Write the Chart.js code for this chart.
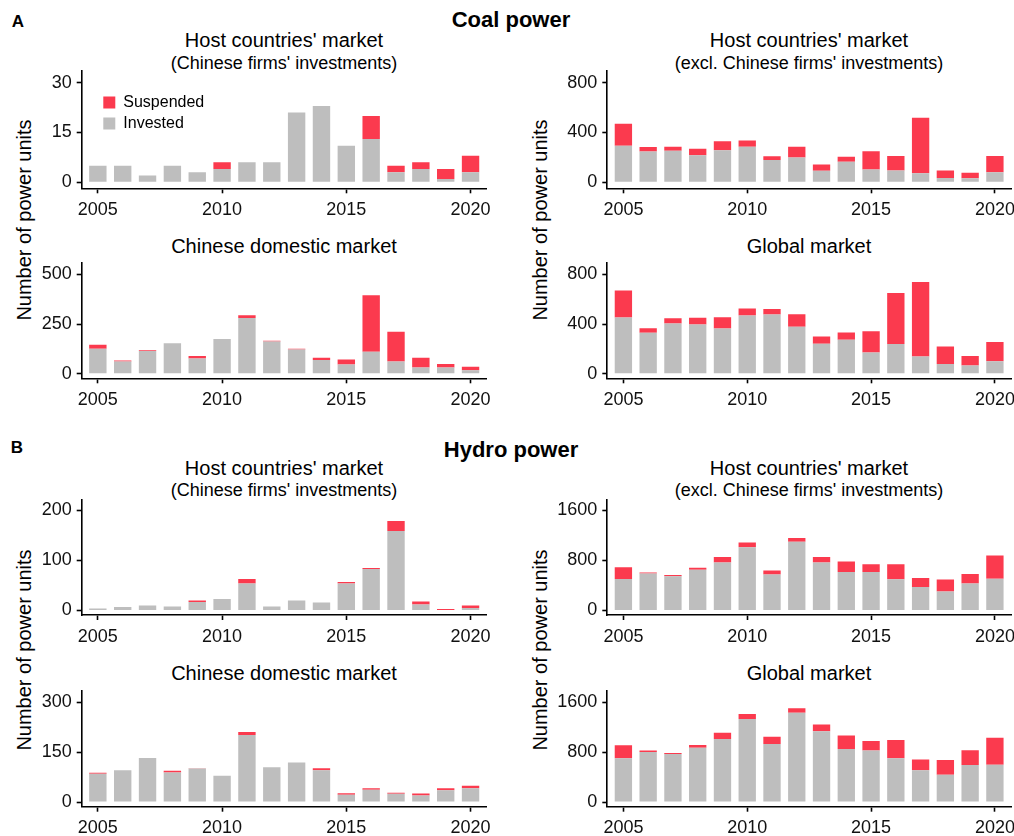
<!DOCTYPE html>
<html>
<head>
<meta charset="utf-8">
<title>Coal and hydro power units, 2005-2020</title>
<script src="https://cdn.jsdelivr.net/npm/chart.js@4.4.1/dist/chart.umd.min.js"></script>
<style>
  html, body { margin: 0; padding: 0; background: #fff; }
  #fig { position: relative; width: 1014px; height: 836px; overflow: hidden;
         font-family: "Liberation Sans", Arial, Helvetica, sans-serif; color: #000; }
  .txt { position: absolute; white-space: nowrap; line-height: 1; transform: translate(-50%, -50%); }
  .sec { font-weight: bold; font-size: 22px; }
  .tag { font-weight: bold; font-size: 17px; }
  .t1 { font-size: 20px; }
  .t2 { font-size: 18px; }
  .ylab { font-size: 20px; transform: translate(-50%, -50%) rotate(-90deg); }
  canvas { position: absolute; }
</style>
</head>
<body>
<div id="fig">
  <div class="txt tag" style="left:18px;top:21px">A</div>
  <div class="txt sec" style="left:511px;top:20px">Coal power</div>
  <div class="txt tag" style="left:17px;top:447px">B</div>
  <div class="txt sec" style="left:511px;top:450px">Hydro power</div>

  <div class="txt t1" style="left:284px;top:40px">Host countries' market</div>
  <div class="txt t2" style="left:284px;top:63px">(Chinese firms' investments)</div>
  <div class="txt t1" style="left:809px;top:40px">Host countries' market</div>
  <div class="txt t2" style="left:809px;top:63px">(excl. Chinese firms' investments)</div>
  <div class="txt t1" style="left:284px;top:246px">Chinese domestic market</div>
  <div class="txt t1" style="left:809px;top:246px">Global market</div>

  <div class="txt t1" style="left:284px;top:468px">Host countries' market</div>
  <div class="txt t2" style="left:284px;top:490px">(Chinese firms' investments)</div>
  <div class="txt t1" style="left:809px;top:468px">Host countries' market</div>
  <div class="txt t2" style="left:809px;top:490px">(excl. Chinese firms' investments)</div>
  <div class="txt t1" style="left:284px;top:673px">Chinese domestic market</div>
  <div class="txt t1" style="left:809px;top:673px">Global market</div>

  <div class="txt ylab" style="left:24px;top:220px">Number of power units</div>
  <div class="txt ylab" style="left:540px;top:220px">Number of power units</div>
  <div class="txt ylab" style="left:24px;top:650px">Number of power units</div>
  <div class="txt ylab" style="left:540px;top:650px">Number of power units</div>
</div>

<script>
// ---- Data: number of power units per year (invested / suspended) ----
const years = [2005, 2006, 2007, 2008, 2009, 2010, 2011, 2012, 2013, 2014, 2015, 2016, 2017, 2018, 2019, 2020];
const yearTicks = [2005, 2010, 2015, 2020];

// Coal power
const coalHostChineseInvested  = [5, 5, 2, 5, 3, 4, 6, 6, 21, 23, 11, 13, 3, 4, 1, 3];
const coalHostChineseSuspended = [0, 0, 0, 0, 0, 2, 0, 0, 0, 0, 0, 7, 2, 2, 3, 5];
const coalHostOtherInvested    = [293, 247, 254, 218, 257, 286, 178, 198, 93, 164, 103, 95, 73, 34, 32, 81];
const coalHostOtherSuspended   = [177, 37, 32, 51, 73, 49, 30, 88, 49, 41, 146, 115, 445, 61, 44, 129];
const coalDomesticInvested     = [126, 62, 115, 154, 77, 175, 280, 162, 122, 69, 46, 111, 62, 31, 31, 17];
const coalDomesticSuspended    = [20, 4, 3, 0, 12, 0, 14, 4, 4, 11, 25, 284, 149, 49, 18, 18];
const coalGlobalInvested       = [453, 330, 404, 397, 365, 470, 478, 379, 241, 273, 170, 239, 138, 79, 67, 101];
const coalGlobalSuspended      = [217, 37, 42, 54, 91, 55, 44, 101, 59, 60, 172, 411, 601, 140, 76, 155];

// Hydro power
const hydroHostChineseInvested  = [4, 7, 10, 8, 17, 23, 54, 8, 20, 16, 54, 83, 159, 12, 0, 5];
const hydroHostChineseSuspended = [0, 0, 0, 0, 3, 0, 9, 0, 0, 0, 3, 2, 20, 6, 3, 5];
const hydroHostOtherInvested    = [504, 592, 548, 651, 768, 1013, 577, 1101, 768, 616, 616, 499, 377, 303, 430, 509];
const hydroHostOtherSuspended   = [186, 15, 20, 34, 88, 73, 64, 58, 88, 167, 123, 240, 142, 191, 152, 372];
const hydroDomesticInvested     = [85, 96, 133, 89, 101, 79, 202, 105, 119, 96, 22, 37, 25, 20, 36, 42];
const hydroDomesticSuspended    = [3, 0, 0, 5, 1, 0, 9, 0, 0, 6, 5, 5, 3, 6, 6, 7];
const hydroGlobalInvested       = [704, 803, 773, 871, 1014, 1334, 931, 1433, 1137, 852, 827, 704, 512, 438, 596, 601];
const hydroGlobalSuspended      = [207, 24, 15, 45, 99, 79, 118, 74, 109, 216, 153, 291, 172, 237, 236, 433];

// Y-axis tick labels per panel
const ticksCoalHostChinese  = [0, 15, 30];
const ticksCoalHostOther    = [0, 400, 800];
const ticksCoalDomestic     = [0, 250, 500];
const ticksCoalGlobal       = [0, 400, 800];
const ticksHydroHostChinese = [0, 100, 200];
const ticksHydroHostOther   = [0, 800, 1600];
const ticksHydroDomestic    = [0, 150, 300];
const ticksHydroGlobal      = [0, 800, 1600];

// ---- Styling / layout ----
const GRAY = '#bebebe';
const RED = '#fb3a4e';
const FONT = '"Liberation Sans", Arial, Helvetica, sans-serif';
const AXIS_W = 1.6;
const X_MIN = 2004.35, X_MAX = 2020.65;

const AX_W = 60, PAD_T = 5, PAD_R = 12, AX_H = 42;

// plot-area frame for each panel: left/right of the axis box, top of the y axis line,
// y of the x axis line, pixel of the zero line and of the highest tick
const COL_L = { left: 81.7, right: 486.7 };
const COL_R = { left: 607.3, right: 1011 };
const ROW_COAL_1 = { top: 60, bottom: 188.3, zeroY: 181.7, tickY: 73 };
const ROW_COAL_2 = { top: 252.3, bottom: 378.3, zeroY: 373.3, tickY: 265 };
const ROW_HYDRO_1 = { top: 489.3, bottom: 615, zeroY: 610, tickY: 501 };
const ROW_HYDRO_2 = { top: 680.7, bottom: 806.7, zeroY: 801.7, tickY: 693.3 };

const panels = [
  { col: COL_L, row: ROW_COAL_1, inv: coalHostChineseInvested, sus: coalHostChineseSuspended, ticks: ticksCoalHostChinese, legend: true },
  { col: COL_R, row: ROW_COAL_1, inv: coalHostOtherInvested, sus: coalHostOtherSuspended, ticks: ticksCoalHostOther },
  { col: COL_L, row: ROW_COAL_2, inv: coalDomesticInvested, sus: coalDomesticSuspended, ticks: ticksCoalDomestic },
  { col: COL_R, row: ROW_COAL_2, inv: coalGlobalInvested, sus: coalGlobalSuspended, ticks: ticksCoalGlobal },
  { col: COL_L, row: ROW_HYDRO_1, inv: hydroHostChineseInvested, sus: hydroHostChineseSuspended, ticks: ticksHydroHostChinese },
  { col: COL_R, row: ROW_HYDRO_1, inv: hydroHostOtherInvested, sus: hydroHostOtherSuspended, ticks: ticksHydroHostOther },
  { col: COL_L, row: ROW_HYDRO_2, inv: hydroDomesticInvested, sus: hydroDomesticSuspended, ticks: ticksHydroDomestic },
  { col: COL_R, row: ROW_HYDRO_2, inv: hydroGlobalInvested, sus: hydroGlobalSuspended, ticks: ticksHydroGlobal }
];

// places the legend inside the plot area, near its top-left corner
const legendInside = {
  id: 'legendInside',
  afterLayout(chart) {
    const lg = chart.legend;
    if (!lg || !lg.options.display) return;
    const ca = chart.chartArea;
    lg.left = ca.left + 16.6;
    lg.top = ca.top + 18.7;
    lg.right = lg.left + 160;
    lg.bottom = lg.top + 80;
  }
};

const fig = document.getElementById('fig');

function axisCommon() {
  return {
    grid: { display: true, drawOnChartArea: false, drawTicks: true, tickLength: 5,
            tickWidth: AXIS_W, tickColor: '#000', offset: false },
    border: { display: true, color: '#000', width: AXIS_W }
  };
}

function buildPanel(p) {
  const left = p.col.left, right = p.col.right, top = p.row.top, bottom = p.row.bottom;
  const cl = Math.floor(left) - AX_W;
  const ct = Math.floor(top) - PAD_T;
  const W = Math.ceil(right) + PAD_R - cl;
  const H = Math.ceil(bottom) + AX_H - ct;
  const yAxisW = left - cl;
  const padTop = top - ct;
  const padRight = W - (right - cl);
  const xAxisH = H - (bottom - ct);

  const cv = document.createElement('canvas');
  cv.width = W; cv.height = H;
  cv.style.left = cl + 'px'; cv.style.top = ct + 'px';
  cv.style.width = W + 'px'; cv.style.height = H + 'px';
  fig.appendChild(cv);

  const topTick = p.ticks[p.ticks.length - 1];
  const ppu = (p.row.zeroY - p.row.tickY) / topTick;
  const yMax = (p.row.zeroY - top) / ppu;
  const yMin = -(bottom - p.row.zeroY) / ppu;

  const ax = axisCommon();
  const ay = axisCommon();

  new Chart(cv, {
    type: 'bar',
    data: {
      datasets: [
        { label: 'Invested', data: years.map((yr, i) => ({ x: yr, y: p.inv[i] })),
          backgroundColor: GRAY, borderWidth: 0, barPercentage: 0.7, categoryPercentage: 1 },
        { label: 'Suspended', data: years.map((yr, i) => ({ x: yr, y: p.sus[i] })),
          backgroundColor: RED, borderWidth: 0, barPercentage: 0.7, categoryPercentage: 1 }
      ]
    },
    options: {
      responsive: false,
      animation: false,
      devicePixelRatio: 1,
      layout: { padding: { left: 0, top: padTop, right: padRight, bottom: 0 } },
      plugins: {
        title: { display: false },
        tooltip: { enabled: false },
        legend: {
          display: !!p.legend,
          position: 'chartArea',
          align: 'start',
          reverse: true,
          labels: { boxWidth: 12, boxHeight: 12, padding: 5, color: '#000',
                    font: { family: FONT, size: 16 } }
        }
      },
      scales: {
        x: {
          type: 'linear', stacked: true, offset: false,
          min: X_MIN, max: X_MAX,
          afterBuildTicks: s => { s.ticks = yearTicks.map(v => ({ value: v })); },
          afterFit: s => { s.height = xAxisH; },
          ticks: { padding: 6, color: '#111', font: { family: FONT, size: 18 },
                   maxRotation: 0, autoSkip: false, callback: v => String(v) },
          grid: ax.grid, border: ax.border
        },
        y: {
          type: 'linear', stacked: true,
          min: yMin, max: yMax,
          afterBuildTicks: s => { s.ticks = p.ticks.map(v => ({ value: v })); },
          afterFit: s => { s.width = yAxisW; },
          ticks: { padding: 5, color: '#111', font: { family: FONT, size: 18 },
                   autoSkip: false, callback: v => String(v) },
          grid: ay.grid, border: ay.border
        }
      }
    },
    plugins: [legendInside]
  });
}

panels.forEach(buildPanel);
</script>
</body>
</html>
